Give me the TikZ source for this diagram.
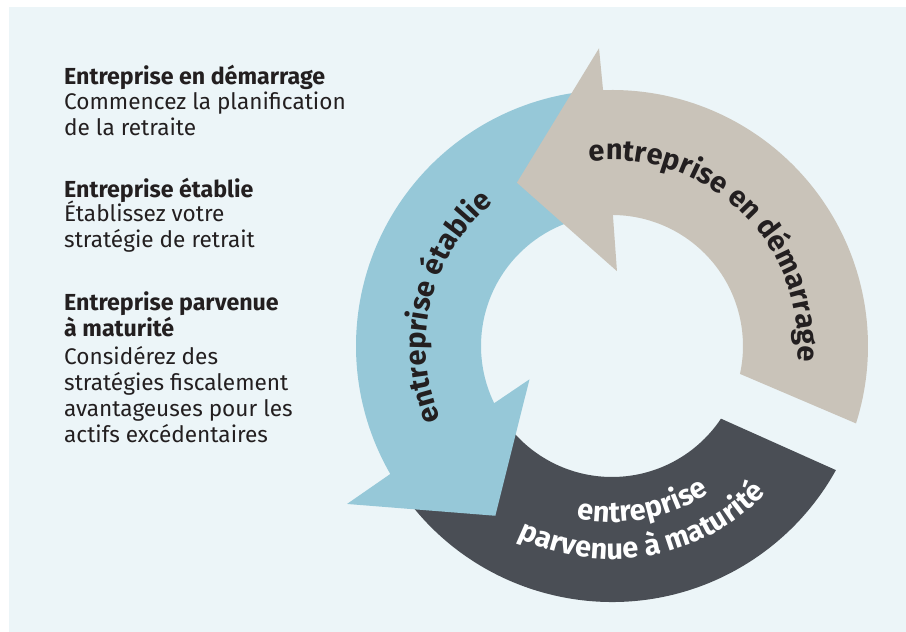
\documentclass[tikz,border=0pt]{standalone}
\usepackage{fontspec}
\setmainfont{Fira Sans}
\usepackage{tikz}
\usetikzlibrary{decorations.text}
\definecolor{bgblue}{HTML}{ECF5F8}
\definecolor{bandblue}{HTML}{96C8D8}
\definecolor{bandbeige}{HTML}{C9C3B9}
\definecolor{banddark}{HTML}{4A4E55}
\definecolor{inktext}{HTML}{231F20}
\pgfdeclarelayer{backlayer}
\pgfdeclarelayer{bandlayer}
\pgfsetlayers{backlayer,bandlayer,main}
\tikzstyle{heading}=[anchor=north west,inner sep=0pt,align=left,text=inktext,font=\fontsize{23.2}{26}\selectfont\bfseries]
\tikzstyle{body}=[anchor=north west,inner sep=0pt,align=left,text=inktext,font=\fontsize{22.6}{26}\selectfont]
\tikzstyle{arclabel}=[decorate,decoration={text along path,text align=center}]
\newcommand{\arcfont}{\fontsize{29}{32}\selectfont\bfseries}

\begin{document}
\begin{tikzpicture}[x=1pt,y=1pt]
	\useasboundingbox (0,0) rectangle (906,632);
	\begin{pgfonlayer}{backlayer}
		\fill [bgblue] (9,0) rectangle (906,625);
	\end{pgfonlayer}
	\coordinate (hub) at (612,286);
	\begin{pgfonlayer}{bandlayer}
		\begin{scope}[shift={(hub)}]
		% maturite (no head), then etablie, then demarrage on top
		\fill [banddark] (214:256) arc[start angle=214,end angle=331,radius=256] -- (326.3:131) arc[start angle=326.3,end angle=214,radius=131] -- cycle;
		\fill [bandblue] (95:256) arc[start angle=95,end angle=210,radius=256] -- (210.8:308.5) -- (235.5:206) -- (202:89) -- (205.9:131) arc[start angle=205.9,end angle=95,radius=131] -- cycle;
		\fill [bandbeige] (-17.6:256) arc[start angle=-17.6,end angle=92,radius=256] -- (92.5:298) -- (120.2:189) -- (86.2:75) -- (89.6:131) arc[start angle=89.6,end angle=-12.3,radius=131] -- cycle;
		\end{scope}
	\end{pgfonlayer}
	\begin{scope}[shift={(hub)}]
		\path [arclabel,decoration={text color=inktext,text={|\arcfont|entreprise en d{\'e}marrage}}] (102:186) arc[start angle=102,end angle=-10,radius=186];
		\path [arclabel,decoration={text color=inktext,text={|\arcfont|entreprise {\'e}tablie}}] (207:186) arc[start angle=207,end angle=126,radius=186];
		\path [arclabel,decoration={text color=white,text={|\arcfont|entreprise}}] (251:176) arc[start angle=251,end angle=311,radius=176];
		\path [arclabel,decoration={text color=white,text={|\arcfont|parvenue {\`a} maturit{\'e}}}] (230:213) arc[start angle=230,end angle=330,radius=213];
	\end{scope}

	\node [style=heading] (demarrage) at (64,567) {Entreprise en démarrage};
	\node [style=body] (demarragetxt) at (64,540) {Commencez la planification\\de la retraite};
	\node [style=heading] (etablie) at (64,454) {Entreprise établie};
	\node [style=body] (etablietxt) at (64,431) {Établissez votre\\stratégie de retrait};
	\node [style=heading] (maturite) at (64,341) {Entreprise parvenue\\à maturité};
	\node [style=body] (maturitetxt) at (64,286) {Considérez des\\stratégies fiscalement\\avantageuses pour les\\actifs excédentaires};
\end{tikzpicture}
\end{document}
